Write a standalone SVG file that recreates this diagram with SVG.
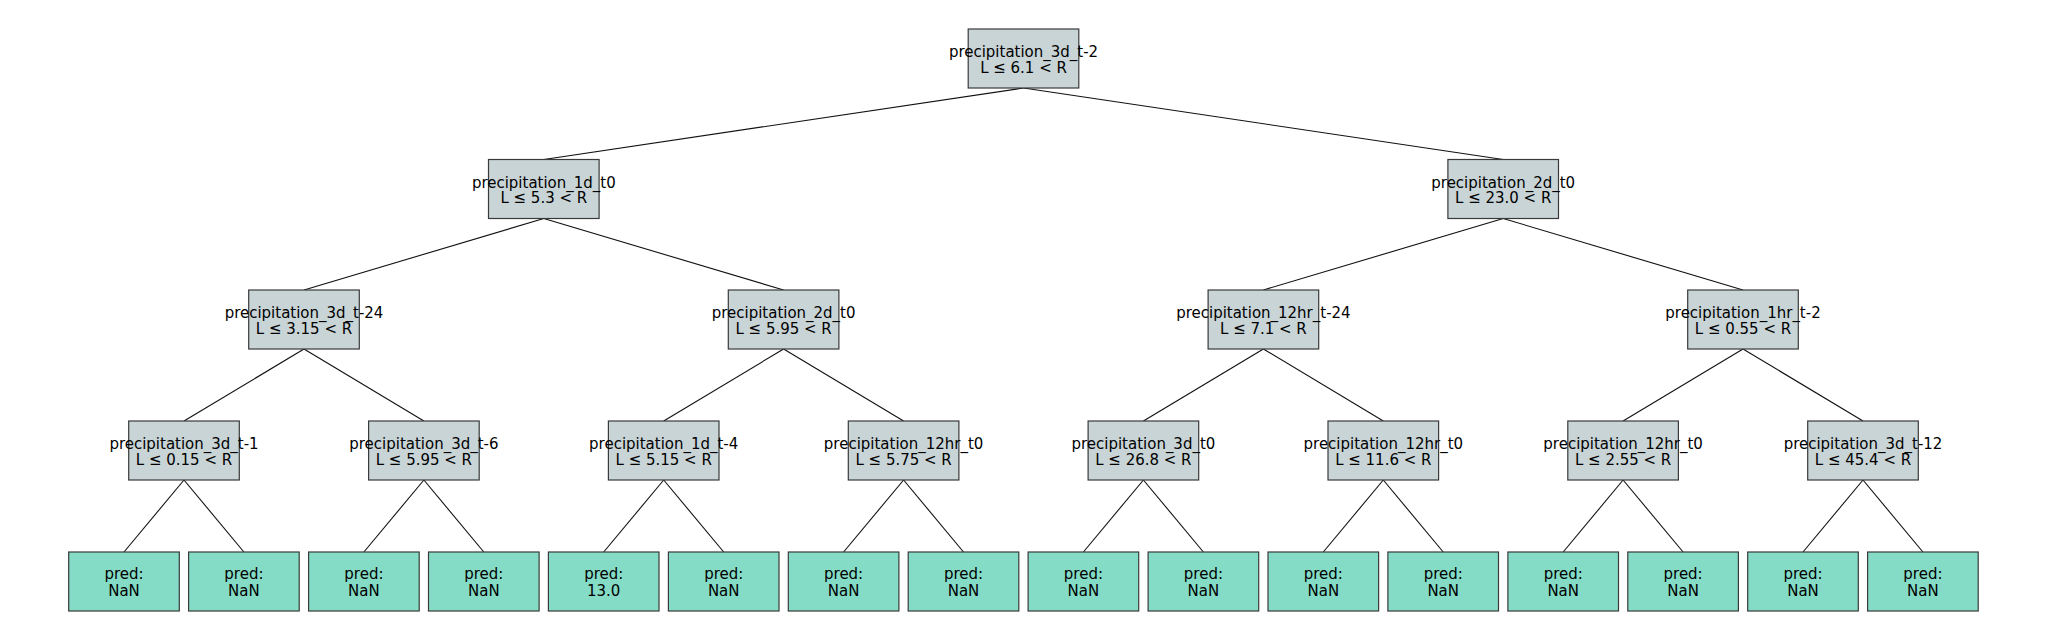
<svg xmlns="http://www.w3.org/2000/svg" width="2048" height="640" viewBox="0 0 2048 640">
<style>
.bg{fill:#ffffff}
.int{fill:#c8d4d6;stroke:#3a3a3a;stroke-width:1.2}
.leaf{fill:#84dcc6;stroke:#3a3a3a;stroke-width:1.2}
text{font-family:"DejaVu Sans",sans-serif;font-size:15px;fill:#000;text-anchor:middle}
.t{transform:scale(1,1.1)}
.edges line{stroke:#111;stroke-width:1.1}
</style>
<defs>
<rect id="ib" class="int" x="-55.3" y="0" width="110.6" height="59"/>
<rect id="lb" class="leaf" x="-55.3" y="0" width="110.6" height="59"/>
</defs>
<rect class="bg" x="0" y="0" width="2048" height="640"/>
<g class="edges">
<line x1="1023.5" y1="88" x2="543.8" y2="159.5"/>
<line x1="1023.5" y1="88" x2="1503.2" y2="159.5"/>
<line x1="543.8" y1="218.5" x2="304" y2="290"/>
<line x1="543.8" y1="218.5" x2="783.6" y2="290"/>
<line x1="1503.2" y1="218.5" x2="1263.4" y2="290"/>
<line x1="1503.2" y1="218.5" x2="1743" y2="290"/>
<line x1="304" y1="349" x2="184" y2="421"/>
<line x1="304" y1="349" x2="423.9" y2="421"/>
<line x1="783.6" y1="349" x2="663.7" y2="421"/>
<line x1="783.6" y1="349" x2="903.6" y2="421"/>
<line x1="1263.4" y1="349" x2="1143.4" y2="421"/>
<line x1="1263.4" y1="349" x2="1383.3" y2="421"/>
<line x1="1743" y1="349" x2="1623.1" y2="421"/>
<line x1="1743" y1="349" x2="1863" y2="421"/>
<line x1="184" y1="480" x2="124" y2="552"/>
<line x1="184" y1="480" x2="243.9" y2="552"/>
<line x1="423.9" y1="480" x2="363.9" y2="552"/>
<line x1="423.9" y1="480" x2="483.8" y2="552"/>
<line x1="663.7" y1="480" x2="603.7" y2="552"/>
<line x1="663.7" y1="480" x2="723.7" y2="552"/>
<line x1="903.6" y1="480" x2="843.6" y2="552"/>
<line x1="903.6" y1="480" x2="963.5" y2="552"/>
<line x1="1143.4" y1="480" x2="1083.4" y2="552"/>
<line x1="1143.4" y1="480" x2="1203.4" y2="552"/>
<line x1="1383.3" y1="480" x2="1323.3" y2="552"/>
<line x1="1383.3" y1="480" x2="1443.2" y2="552"/>
<line x1="1623.1" y1="480" x2="1563.2" y2="552"/>
<line x1="1623.1" y1="480" x2="1683.1" y2="552"/>
<line x1="1863" y1="480" x2="1803" y2="552"/>
<line x1="1863" y1="480" x2="1922.9" y2="552"/>
</g>
<g id="n0" transform="translate(1023.5,29)"><use href="#ib"/><g class="t"><text x="0" y="25.5">precipitation_3d_t-2</text><text x="0" y="40">L ≤ 6.1 &lt; R</text></g></g>
<g id="n1" transform="translate(543.8,159.5)"><use href="#ib"/><g class="t"><text x="0" y="25.5">precipitation_1d_t0</text><text x="0" y="40">L ≤ 5.3 &lt; R</text></g></g>
<g id="n2" transform="translate(1503.2,159.5)"><use href="#ib"/><g class="t"><text x="0" y="25.5">precipitation_2d_t0</text><text x="0" y="40">L ≤ 23.0 &lt; R</text></g></g>
<g id="n3" transform="translate(304,290)"><use href="#ib"/><g class="t"><text x="0" y="25.5">precipitation_3d_t-24</text><text x="0" y="40">L ≤ 3.15 &lt; R</text></g></g>
<g id="n4" transform="translate(783.6,290)"><use href="#ib"/><g class="t"><text x="0" y="25.5">precipitation_2d_t0</text><text x="0" y="40">L ≤ 5.95 &lt; R</text></g></g>
<g id="n5" transform="translate(1263.4,290)"><use href="#ib"/><g class="t"><text x="0" y="25.5">precipitation_12hr_t-24</text><text x="0" y="40">L ≤ 7.1 &lt; R</text></g></g>
<g id="n6" transform="translate(1743,290)"><use href="#ib"/><g class="t"><text x="0" y="25.5">precipitation_1hr_t-2</text><text x="0" y="40">L ≤ 0.55 &lt; R</text></g></g>
<g id="n7" transform="translate(184,421)"><use href="#ib"/><g class="t"><text x="0" y="25.5">precipitation_3d_t-1</text><text x="0" y="40">L ≤ 0.15 &lt; R</text></g></g>
<g id="n8" transform="translate(423.9,421)"><use href="#ib"/><g class="t"><text x="0" y="25.5">precipitation_3d_t-6</text><text x="0" y="40">L ≤ 5.95 &lt; R</text></g></g>
<g id="n9" transform="translate(663.7,421)"><use href="#ib"/><g class="t"><text x="0" y="25.5">precipitation_1d_t-4</text><text x="0" y="40">L ≤ 5.15 &lt; R</text></g></g>
<g id="n10" transform="translate(903.6,421)"><use href="#ib"/><g class="t"><text x="0" y="25.5">precipitation_12hr_t0</text><text x="0" y="40">L ≤ 5.75 &lt; R</text></g></g>
<g id="n11" transform="translate(1143.4,421)"><use href="#ib"/><g class="t"><text x="0" y="25.5">precipitation_3d_t0</text><text x="0" y="40">L ≤ 26.8 &lt; R</text></g></g>
<g id="n12" transform="translate(1383.3,421)"><use href="#ib"/><g class="t"><text x="0" y="25.5">precipitation_12hr_t0</text><text x="0" y="40">L ≤ 11.6 &lt; R</text></g></g>
<g id="n13" transform="translate(1623.1,421)"><use href="#ib"/><g class="t"><text x="0" y="25.5">precipitation_12hr_t0</text><text x="0" y="40">L ≤ 2.55 &lt; R</text></g></g>
<g id="n14" transform="translate(1863,421)"><use href="#ib"/><g class="t"><text x="0" y="25.5">precipitation_3d_t-12</text><text x="0" y="40">L ≤ 45.4 &lt; R</text></g></g>
<g id="l0" transform="translate(124,552)"><use href="#lb"/><g class="t"><text x="0" y="25">pred:</text><text x="0" y="39.6">NaN</text></g></g>
<g id="l1" transform="translate(243.9,552)"><use href="#lb"/><g class="t"><text x="0" y="25">pred:</text><text x="0" y="39.6">NaN</text></g></g>
<g id="l2" transform="translate(363.9,552)"><use href="#lb"/><g class="t"><text x="0" y="25">pred:</text><text x="0" y="39.6">NaN</text></g></g>
<g id="l3" transform="translate(483.8,552)"><use href="#lb"/><g class="t"><text x="0" y="25">pred:</text><text x="0" y="39.6">NaN</text></g></g>
<g id="l4" transform="translate(603.7,552)"><use href="#lb"/><g class="t"><text x="0" y="25">pred:</text><text x="0" y="39.6">13.0</text></g></g>
<g id="l5" transform="translate(723.7,552)"><use href="#lb"/><g class="t"><text x="0" y="25">pred:</text><text x="0" y="39.6">NaN</text></g></g>
<g id="l6" transform="translate(843.6,552)"><use href="#lb"/><g class="t"><text x="0" y="25">pred:</text><text x="0" y="39.6">NaN</text></g></g>
<g id="l7" transform="translate(963.5,552)"><use href="#lb"/><g class="t"><text x="0" y="25">pred:</text><text x="0" y="39.6">NaN</text></g></g>
<g id="l8" transform="translate(1083.4,552)"><use href="#lb"/><g class="t"><text x="0" y="25">pred:</text><text x="0" y="39.6">NaN</text></g></g>
<g id="l9" transform="translate(1203.4,552)"><use href="#lb"/><g class="t"><text x="0" y="25">pred:</text><text x="0" y="39.6">NaN</text></g></g>
<g id="l10" transform="translate(1323.3,552)"><use href="#lb"/><g class="t"><text x="0" y="25">pred:</text><text x="0" y="39.6">NaN</text></g></g>
<g id="l11" transform="translate(1443.2,552)"><use href="#lb"/><g class="t"><text x="0" y="25">pred:</text><text x="0" y="39.6">NaN</text></g></g>
<g id="l12" transform="translate(1563.2,552)"><use href="#lb"/><g class="t"><text x="0" y="25">pred:</text><text x="0" y="39.6">NaN</text></g></g>
<g id="l13" transform="translate(1683.1,552)"><use href="#lb"/><g class="t"><text x="0" y="25">pred:</text><text x="0" y="39.6">NaN</text></g></g>
<g id="l14" transform="translate(1803,552)"><use href="#lb"/><g class="t"><text x="0" y="25">pred:</text><text x="0" y="39.6">NaN</text></g></g>
<g id="l15" transform="translate(1922.9,552)"><use href="#lb"/><g class="t"><text x="0" y="25">pred:</text><text x="0" y="39.6">NaN</text></g></g>
</svg>
